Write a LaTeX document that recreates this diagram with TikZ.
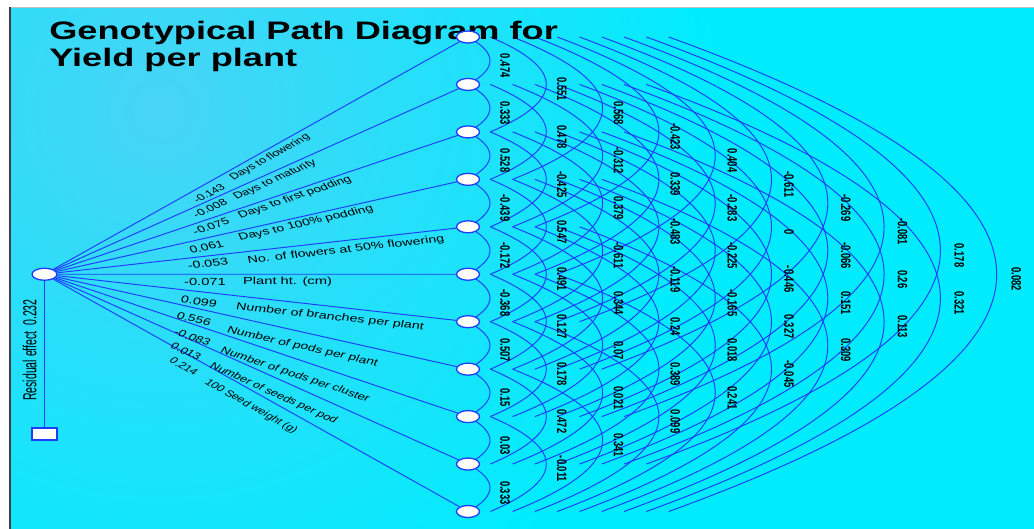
\documentclass[tikz,border=0pt]{standalone}
\usepackage{fontspec}
\setmainfont{Liberation Sans}
\usetikzlibrary{calc,shapes.geometric}
\pgfdeclarelayer{bg}
\pgfdeclarelayer{back}
\pgfsetlayers{bg,back,main}
\definecolor{lineblue}{RGB}{30,60,255}
\definecolor{skyA}{RGB}{72,212,246}
\definecolor{skyB}{RGB}{0,236,254}
\begin{document}
\begin{tikzpicture}[x=1pt,y=-1pt,
  vnode/.style={ellipse, draw=lineblue, line width=1.3pt, fill=white, minimum width=23pt, minimum height=12pt, inner sep=0pt},
  rbox/.style={rectangle, draw=lineblue, line width=1.3pt, fill=white, minimum width=25pt, minimum height=12pt, inner sep=0pt},
  link/.style={draw=lineblue, line width=0.95pt},
  corr/.style={xscale=1.45, rotate=-90, font=\fontsize{9.4}{10}\selectfont\bfseries, inner sep=0pt},
  lab/.style={xscale=1.43, font=\fontsize{10.3}{11}\selectfont, inner sep=0pt, anchor=center},
  ttl/.style={xscale=1.43, font=\fontsize{25.3}{30}\selectfont\bfseries, inner sep=0pt, anchor=base west},
]
\useasboundingbox (0,0) rectangle (1034,529);
% background
\begin{pgfonlayer}{bg}
  \fill[white] (0,0) rectangle (1034,529);
  \begin{scope}
    \clip (10,8) rectangle (1034,529);
    \fill[skyB] (10,8) rectangle (1034,529);
    \shade[inner color=skyA, outer color=skyB] (160,110) circle (560);
  \end{scope}
  \draw[black!25, line width=1pt] (10,7.5) -- (1034,7.5);
  \draw[black!75, line width=2pt] (9.5,7) -- (9.5,529);
\end{pgfonlayer}

% title
\node[ttl] (t1) at (49,40) {Genotypical Path Diagram for};
\node[ttl] (t2) at (49,67) {Yield per plant};

% nodes
\foreach \i in {1,...,11} \node[vnode] (n\i) at (468,{37+47.45*(\i-1)}) {};
\node[vnode, minimum width=25pt] (L) at (44.5,274.25) {};
\node[rbox] (R) at (44.5,434) {};

\begin{pgfonlayer}{back}
  \foreach \i in {1,...,11} \draw[link] (L) -- (n\i);
  \draw[link] (L) -- (R);
  \foreach \k in {1,...,10} {
    \pgfmathtruncatemacro\last{11-\k}
    \foreach \i in {1,...,\last} {
      \pgfmathtruncatemacro\j{\i+\k}
      \pgfmathsetmacro\s{22.3*(\k-1)}
      \pgfmathsetmacro\o{4/3*(22+34*(\k-1))}
      \pgfmathsetmacro\b{2/3*47.45*\k/2}
      \draw[link] ([xshift=\s pt]n\i.center) .. controls +(\o,\b) and +(\o,-\b) .. ([xshift=\s pt]n\j.center);
    }
  }
\end{pgfonlayer}

% correlation labels
\foreach \k/\vals in {
  1/{0.474,0.333,0.528,-0.439,-0.172,-0.368,0.507,0.15,0.03,0.333},
  2/{0.551,0.478,-0.425,0.547,0.491,0.127,0.178,0.472,-0.011},
  3/{0.568,-0.312,0.379,-0.611,0.344,0.07,0.021,0.341},
  4/{-0.423,0.339,-0.483,-0.119,0.24,0.389,0.099},
  5/{0.404,-0.283,-0.225,-0.165,0.018,0.241},
  6/{-0.611,0,-0.446,0.327,-0.045},
  7/{-0.269,-0.066,0.151,0.309},
  8/{-0.081,0.26,0.113},
  9/{0.178,0.321},
  10/{0.082}} {
  \foreach \v [count=\i] in \vals {
    \node[corr] (c\k-\i) at ({505+56.8*(\k-1)},{42+47.45*(\i-1)+23.725*\k}) {\v};
  }
}

% direct effects and trait names
\foreach \i/\cx/\cy/\cv/\nx/\ny/\nm in {
  1/209/193.5/-0.143/270/157.5/Days to flowering,
  2/210/208.5/-0.008/275/180/Days to maturity,
  3/211/226.5/-0.075/295/197.5/Days to first podding,
  4/206.5/247/0.061/306/223.5/Days to 100\% podding,
  5/208/263.5/-0.053/346/250/No. of flowers at 50\% flowering,
  6/205/281.7/-0.071/287.5/281.7/Plant ht. (cm),
  7/199/301.5/0.099/330/317/Number of branches per plant,
  8/194/319/0.556/302.5/347/Number of pods per plant,
  9/192.5/337.5/-0.083/295/375/Number of pods per cluster,
  10/186/351.5/0.013/273.5/393.5/Number of seeds per pod,
  11/184/366.5/0.214/251/406.5/100 Seed weight (g)} {
  \pgfmathsetmacro\ang{atan((6-\i)*47.45*1.43/423.5)}
  \pgfmathsetmacro\sc{1-0.026*abs(6-\i)}
  \node[lab, rotate=\ang, scale=\sc] (d\i) at (\cx,\cy) {\cv};
  \node[lab, rotate=\ang, scale=\sc] (m\i) at (\nx,\ny) {\nm};
}

\node[xscale=1.8, rotate=90, font=\fontsize{10.5}{12}\selectfont, inner sep=0pt] (res) at (29.5,350) {Residual effect\ \ 0.232};
\end{tikzpicture}
\end{document}
